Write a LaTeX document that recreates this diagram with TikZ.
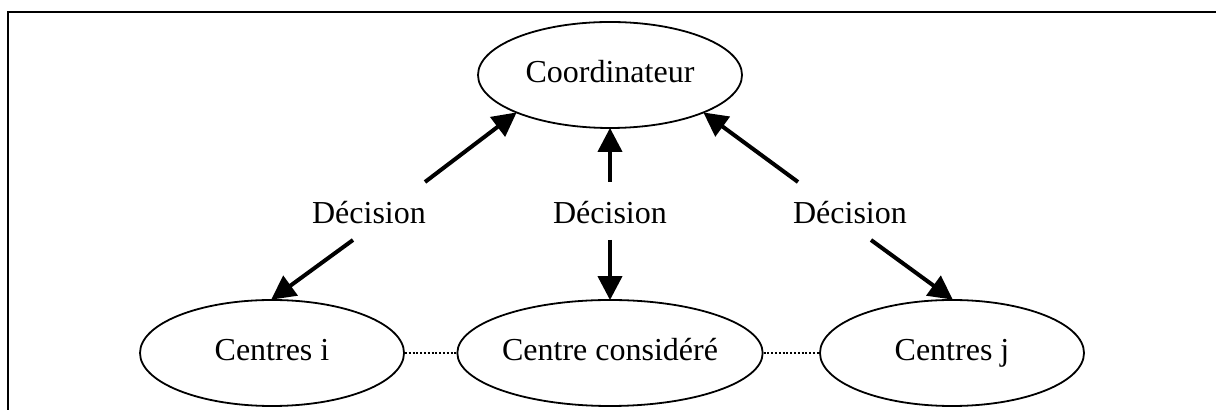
\documentclass[tikz,border=0pt]{standalone}
\usepackage{fontspec}
\setmainfont{Liberation Serif}
\usetikzlibrary{shapes.geometric,arrows.meta}
\begin{document}
\begin{tikzpicture}[x=0.5pt,y=-0.5pt,
  ell/.style={draw,line width=0.9pt,ellipse,inner sep=0pt,minimum width=132pt,minimum height=53pt,text height=11pt,text depth=3.5pt,font=\fontsize{16}{19}\selectfont},
  lab/.style={inner sep=0pt,font=\fontsize{16}{19}\selectfont},
  arr/.style={line width=2pt,-{Triangle[length=12pt,width=12pt]},shorten >=-0.5pt},
  dots/.style={line width=1.1pt,dash pattern=on 1pt off 0.9pt},
  frame/.style={line width=1pt}]
\useasboundingbox (0,0) rectangle (1216,410);
\coordinate (tr) at (1216,12);
\coordinate (tl) at (8,12);
\coordinate (bl) at (8,410);
\draw[frame] (tr) -- (tl) -- (bl);
\node[ell] (co) at (610,75) {Coordinateur};
\node[ell] (ci) at (272,353) {Centres i};
\node[ell] (cc) at (610,353) {Centre considéré};
\node[ell] (cj) at (952,353) {Centres j};
\node[lab] (d1) at (369,213) {Décision};
\node[lab] (d2) at (610,213) {Décision};
\node[lab] (d3) at (850,213) {Décision};
\coordinate (s1u) at (425,182);
\coordinate (s1d) at (353,240);
\coordinate (s2u) at (610,182);
\coordinate (s2d) at (610,240);
\coordinate (s3u) at (798,182);
\coordinate (s3d) at (871,240);
\draw[arr] (s1u) -- (co.202);
\draw[arr] (s1d) -- (ci.north);
\draw[arr] (s2u) -- (co.south);
\draw[arr] (s2d) -- (cc.north);
\draw[arr] (s3u) -- (co.338);
\draw[arr] (s3d) -- (cj.north);
\draw[dots] (ci.east) -- (cc.west);
\draw[dots] (cc.east) -- (cj.west);
\end{tikzpicture}
\end{document}
